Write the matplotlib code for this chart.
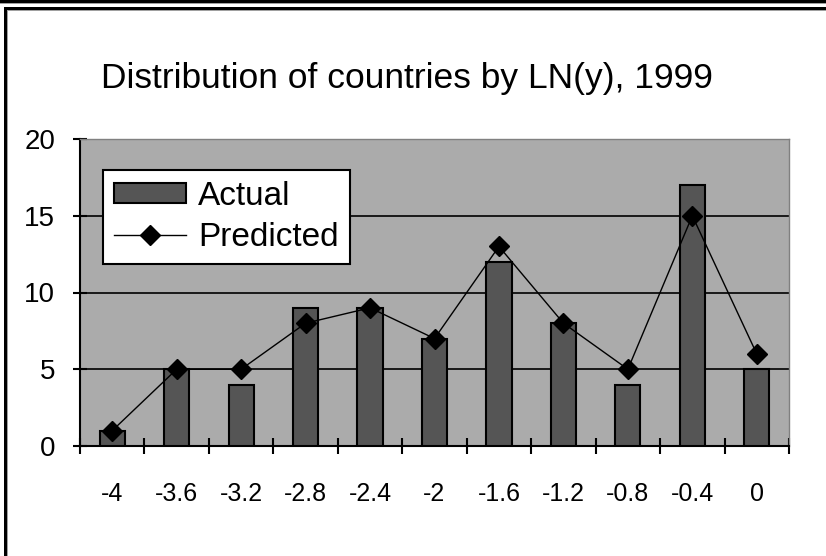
import matplotlib
matplotlib.use("Agg")
import matplotlib.pyplot as plt
from matplotlib.patches import Rectangle, Patch
from matplotlib.lines import Line2D
import numpy as np

categories = ["-4", "-3.6", "-3.2", "-2.8", "-2.4", "-2", "-1.6", "-1.2", "-0.8", "-0.4", "0"]
actual = [1, 5, 4, 9, 9, 7, 12, 8, 4, 17, 5]
predicted = [1, 5, 5, 8, 9, 7, 13, 8, 5, 15, 6]
y_ticks = [0, 5, 10, 15, 20]

plt.rcParams['font.family'] = ['Liberation Sans', 'DejaVu Sans']

W, H = 826, 556
fig = plt.figure(figsize=(W / 100, H / 100), dpi=100)
fig.patch.set_facecolor("white")

# frame lines (pixel coordinates converted to figure fractions)
def prect(x0, y0, w, h, color):
    fig.add_artist(Rectangle((x0 / W, 1 - (y0 + h) / H), w / W, h / H,
                             transform=fig.transFigure, facecolor=color,
                             edgecolor='none', zorder=10))

prect(0, 0, W, 3, "black")
prect(0, 3, W, 1, "#a0a0a0")
prect(4, 7, W - 4, 3, "black")
prect(4, 10, W - 4, 1, "#a0a0a0")
prect(4, 7, 3, H - 7, "black")
prect(7, 10, 1, H - 10, "#a0a0a0")

ax = fig.add_axes([80 / W, 1 - 446 / H, 709 / W, 307 / H])
ax.set_facecolor("#ababab")

x = np.arange(len(categories))
ax.bar(x, actual, width=0.39, color="#555555", edgecolor="black", linewidth=1.5, zorder=3)
ax.plot(x, predicted, color="black", linewidth=1, marker="D", markersize=10,
        markerfacecolor="black", markeredgecolor="black", zorder=4)

ax.set_xlim(-0.5, len(categories) - 0.5)
ax.set_ylim(0, 20)
ax.set_yticks(y_ticks)
ax.set_yticklabels([str(v) for v in y_ticks], fontsize=20)
ax.yaxis.grid(True, color="black", linewidth=1.2, zorder=1)
ax.set_axisbelow(True)

ax.set_xticks(np.arange(-0.5, len(categories), 1.0))
ax.set_xticklabels([])
ax.set_xticks(x, minor=True)
ax.set_xticklabels(categories, minor=True, fontsize=18)
ax.tick_params(axis='x', which='major', direction='inout', length=11, width=1.5, color='black')
ax.tick_params(axis='x', which='minor', length=0, pad=26)
ax.tick_params(axis='y', which='major', direction='inout', length=10, width=1.5, color='black', pad=13)

for s in ['left', 'bottom']:
    ax.spines[s].set_color('black')
    ax.spines[s].set_linewidth(1.5)
for s in ['top', 'right']:
    ax.spines[s].set_color('#808080')
    ax.spines[s].set_linewidth(1)

handles = [Patch(facecolor="#555555", edgecolor="black", linewidth=1.5, label="Actual"),
           Line2D([0], [0], color="black", linewidth=1, marker="D", markersize=10, label="Predicted")]
leg = ax.legend(handles=handles, loc="upper left", bbox_to_anchor=(23 / 709, 276 / 307),
                fontsize=24, frameon=True, fancybox=False, framealpha=1,
                edgecolor="black", borderpad=0.33, labelspacing=0.3,
                handlelength=2.16, handleheight=0.55, handletextpad=0.36, borderaxespad=0)
leg.get_frame().set_linewidth(1.5)

fig.text(407 / W, 1 - 88 / H, "Distribution of countries by LN(y), 1999",
         ha="center", va="baseline", fontsize=25.5)

fig.savefig("out.png", dpi=100)
